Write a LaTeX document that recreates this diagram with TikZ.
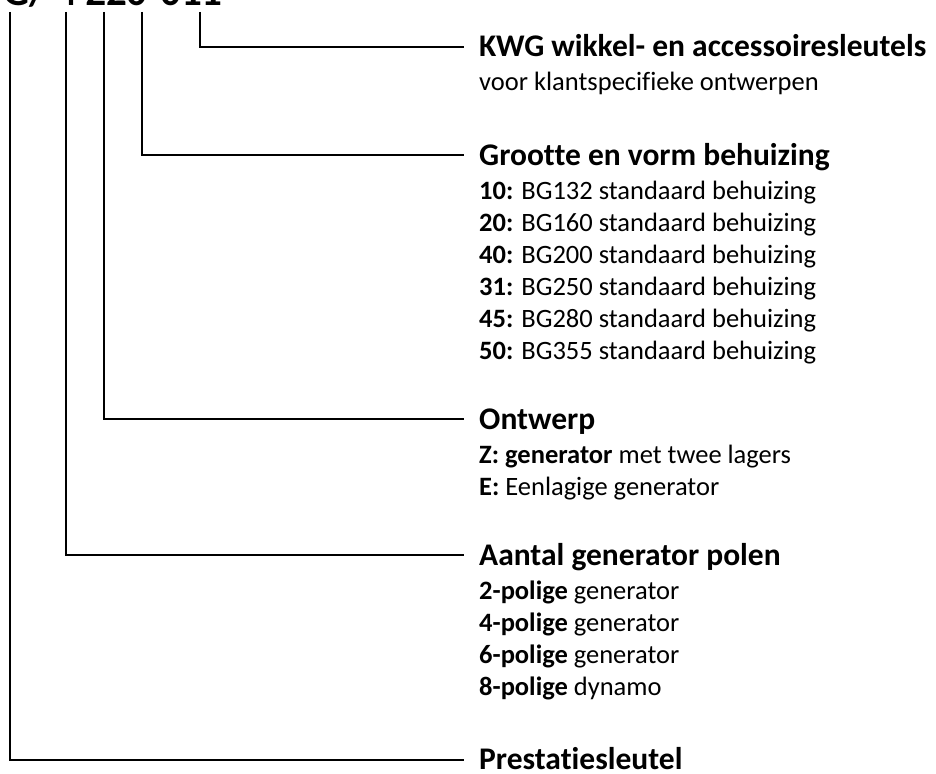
\documentclass[tikz,border=0pt]{standalone}
\usepackage{fontspec}
\setmainfont{Carlito}[Ligatures=NoCommon]
\usetikzlibrary{positioning}

\begin{document}
\begin{tikzpicture}[x=1pt, y=-1pt,
    leader/.style={line width=2.2pt},
    heading/.style={anchor=base west, inner sep=0pt, font=\fontsize{31.5}{38}\selectfont\bfseries},
    item/.style={anchor=base west, inner sep=0pt, font=\fontsize{26.5}{32}\selectfont}]
    \useasboundingbox (0,0) rectangle (936,773);

    % type code, cut off by the top edge
    \node[anchor=base west, inner sep=0pt, font=\fontsize{41}{48}\selectfont\bfseries] (code) at (-36,6) {1FG/ 4 Z20-011};

    % upper ends of the leaders
    \coordinate (pres-top) at (10,12);
    \coordinate (pol-top) at (66,12);
    \coordinate (ont-top) at (104,12);
    \coordinate (size-top) at (142,12);
    \coordinate (kwg-top) at (200,12);

    % ends of the leaders
    \coordinate (kwg-end) at (464,47);
    \coordinate (size-end) at (464,155);
    \coordinate (ont-end) at (464,419);
    \coordinate (pol-end) at (464,555);
    \coordinate (pres-end) at (464,760);

    % headings
    \node[heading] (kwg) at (479,57) {KWG wikkel- en accessoiresleutels};
    \node[heading] (size) at (479,165) {Grootte en vorm behuizing};
    \node[heading] (ont) at (479,429) {Ontwerp};
    \node[heading] (pol) at (479,565) {Aantal generator polen};
    \node[heading] (pres) at (479,769) {Prestatiesleutel};

    % options
    \node[item] (kwg1) at (479,91) {voor klantspecifieke ontwerpen};

    \node[item] (size1) at (479,199) {\textbf{10:} BG132 standaard behuizing};
    \node[item] (size2) at (479,231) {\textbf{20:} BG160 standaard behuizing};
    \node[item] (size3) at (479,263) {\textbf{40:} BG200 standaard behuizing};
    \node[item] (size4) at (479,295) {\textbf{31:} BG250 standaard behuizing};
    \node[item] (size5) at (479,327) {\textbf{45:} BG280 standaard behuizing};
    \node[item] (size6) at (479,359) {\textbf{50:} BG355 standaard behuizing};

    \node[item] (ont1) at (479,463) {\textbf{Z: generator} met twee lagers};
    \node[item] (ont2) at (479,495) {\textbf{E:} Eenlagige generator};

    \node[item] (pol1) at (479,599) {\textbf{2-polige} generator};
    \node[item] (pol2) at (479,631) {\textbf{4-polige} generator};
    \node[item] (pol3) at (479,663) {\textbf{6-polige} generator};
    \node[item] (pol4) at (479,695) {\textbf{8-polige} dynamo};

    % leaders
    \draw[leader] (kwg-top) |- (kwg-end);
    \draw[leader] (size-top) |- (size-end);
    \draw[leader] (ont-top) |- (ont-end);
    \draw[leader] (pol-top) |- (pol-end);
    \draw[leader] (pres-top) |- (pres-end);
\end{tikzpicture}
\end{document}
